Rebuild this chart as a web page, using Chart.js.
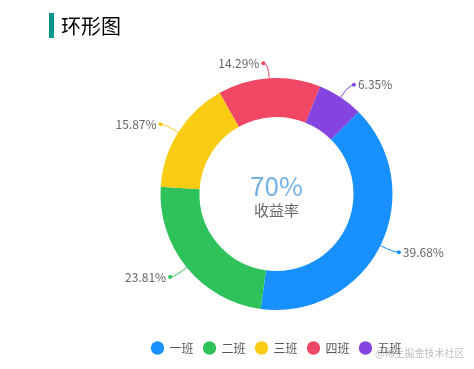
<!DOCTYPE html>
<html><head><meta charset="utf-8">
<script src="https://cdn.jsdelivr.net/npm/chart.js@4/dist/chart.umd.min.js"></script>
<style>html,body{margin:0;padding:0;background:#fff}#wrap{width:474px;height:369px;position:relative}</style>
</head><body><div id="wrap"><canvas id="c" width="474" height="369"></canvas></div>
<script>
const categories = ['一班', '二班', '三班', '四班', '五班'];
const values = [25, 15, 10, 9, 4];
const colors = ['#1890FF', '#2FC25B', '#FACC14', '#F04864', '#8543E0'];
const titleText = '环形图';
const centerValue = '70%';
const centerLabel = '收益率';
const watermark = '@稀土掘金技术社区';
const FONT = '"Microsoft YaHei", "Noto Sans CJK SC", sans-serif';

const outLabels = {
  id: 'outLabels',
  afterDatasetsDraw(chart) {
    const ctx = chart.ctx;
    const meta = chart.getDatasetMeta(0);
    const data = chart.data.datasets[0].data;
    const total = data.reduce((a, b) => a + b, 0);
    meta.data.forEach((arc, i) => {
      const p = arc.getProps(['x', 'y', 'startAngle', 'endAngle', 'outerRadius'], true);
      const mid = (p.startAngle + p.endAngle) / 2;
      const c = Math.cos(mid), s = Math.sin(mid);
      const x0 = p.x + c * p.outerRadius, y0 = p.y + s * p.outerRadius;
      const x1 = p.x + c * (p.outerRadius + 15), y1 = p.y + s * (p.outerRadius + 15);
      const dir = c >= 0 ? 1 : -1;
      const x2 = x1 + dir * 5, y2 = y1;
      const col = chart.data.datasets[0].backgroundColor[i];
      ctx.save();
      ctx.strokeStyle = col; ctx.lineWidth = 1;
      ctx.beginPath(); ctx.moveTo(x0, y0); ctx.quadraticCurveTo(x1, y1, x2, y2); ctx.stroke();
      ctx.fillStyle = col;
      ctx.beginPath(); ctx.arc(x2, y2, 2, 0, Math.PI * 2); ctx.fill();
      ctx.fillStyle = '#666';
      ctx.font = '12px ' + FONT;
      ctx.textBaseline = 'middle';
      ctx.textAlign = dir > 0 ? 'left' : 'right';
      ctx.fillText((data[i] / total * 100).toFixed(2) + '%', x2 + dir * 4, y2);
      ctx.restore();
    });
    const a = meta.data[0];
    ctx.save();
    ctx.textAlign = 'center'; ctx.textBaseline = 'middle';
    ctx.fillStyle = '#74b0e8'; ctx.font = '26px ' + FONT;
    ctx.fillText(centerValue, a.x, a.y - 8);
    ctx.fillStyle = '#666'; ctx.font = '15px ' + FONT;
    ctx.fillText(centerLabel, a.x, a.y + 16);
    ctx.restore();
  },
  afterDraw(chart) {
    const ctx = chart.ctx;
    ctx.save();
    ctx.fillStyle = '#009688';
    ctx.fillRect(49, 13, 5, 25);
    ctx.fillStyle = '#000'; ctx.font = '20px ' + FONT;
    ctx.textBaseline = 'middle'; ctx.textAlign = 'left';
    ctx.fillText(titleText, 61, 26);
    ctx.fillStyle = 'rgba(150,150,150,0.6)'; ctx.font = '10px ' + FONT;
    ctx.fillText(watermark, 375, 353);
    ctx.restore();
  }
};

new Chart(document.getElementById('c'), {
  type: 'doughnut',
  data: {
    labels: categories,
    datasets: [{
      data: values,
      backgroundColor: colors,
      borderWidth: 0,
      hoverOffset: 0,
      radius: 116
    }]
  },
  options: {
    responsive: false,
    animation: false,
    rotation: 45,
    cutout: '66.4%',
    layout: { padding: { top: 56, left: 82, right: 3, bottom: 5 } },
    plugins: {
      tooltip: { enabled: false },
      legend: {
        position: 'bottom',
        labels: {
          usePointStyle: true,
          pointStyle: 'circle',
          boxWidth: 12,
          boxHeight: 9.5,
          padding: 10,
          color: '#555',
          font: { size: 12, family: FONT }
        }
      }
    }
  },
  plugins: [outLabels]
});
</script></body></html>
